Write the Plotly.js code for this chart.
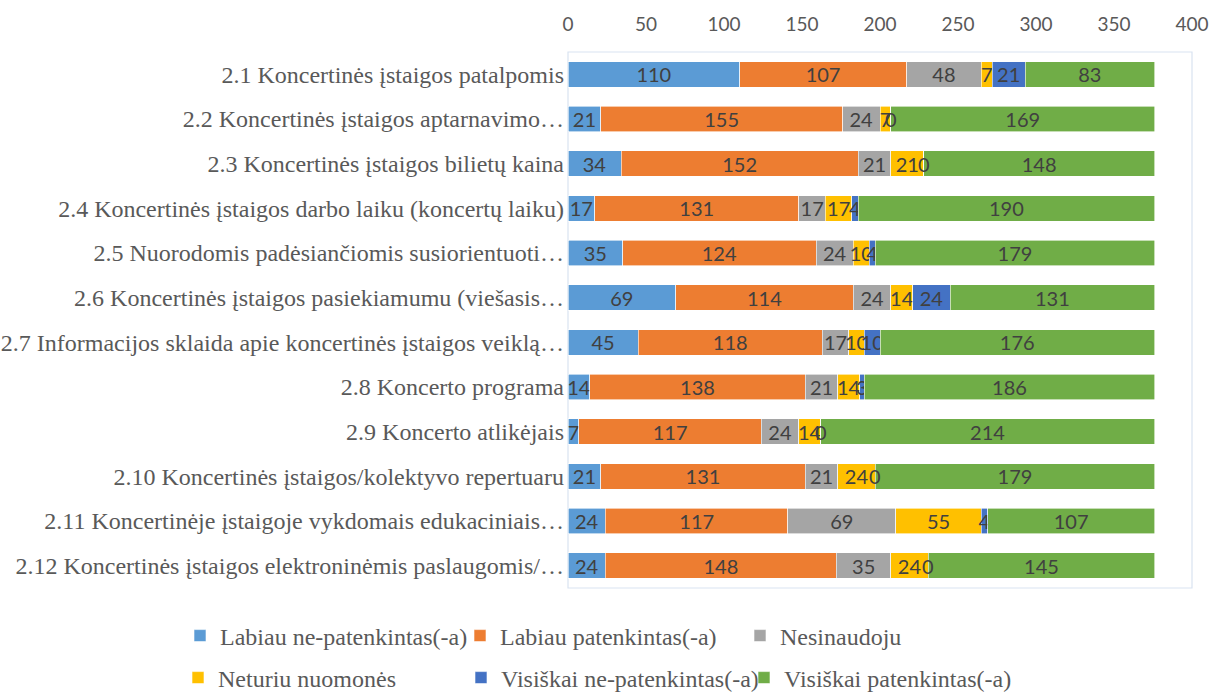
<!DOCTYPE html>
<html>
<head>
<meta charset="utf-8">
<script src="https://cdn.plot.ly/plotly-3.0.1.min.js"></script>
<style>html,body{margin:0;padding:0;background:#fff;}#chart{width:1220px;height:694px;}</style>
</head>
<body>
<div id="chart"></div>
<script>
const categories = [
  "2.1 Koncertinės įstaigos patalpomis",
  "2.2 Koncertinės įstaigos aptarnavimo…",
  "2.3 Koncertinės įstaigos bilietų kaina",
  "2.4 Koncertinės įstaigos darbo laiku (koncertų laiku)",
  "2.5 Nuorodomis padėsiančiomis susiorientuoti…",
  "2.6 Koncertinės įstaigos pasiekiamumu (viešasis…",
  "2.7 Informacijos sklaida apie koncertinės įstaigos veiklą…",
  "2.8 Koncerto programa",
  "2.9 Koncerto atlikėjais",
  "2.10 Koncertinės įstaigos/kolektyvo repertuaru",
  "2.11 Koncertinėje įstaigoje vykdomais edukaciniais…",
  "2.12 Koncertinės įstaigos elektroninėmis paslaugomis/…"
];

const seriesNames = [
  "Labiau ne-patenkintas(-a)",
  "Labiau patenkintas(-a)",
  "Nesinaudoju",
  "Neturiu nuomonės",
  "Visiškai ne-patenkintas(-a)",
  "Visiškai patenkintas(-a)"
];

const labiauNePatenkintas = [110, 21, 34, 17, 35, 69, 45, 14, 7, 21, 24, 24];
const labiauPatenkintas   = [107, 155, 152, 131, 124, 114, 118, 138, 117, 131, 117, 148];
const nesinaudoju         = [48, 24, 21, 17, 24, 24, 17, 21, 24, 21, 69, 35];
const neturiuNuomones     = [7, 7, 21, 17, 10, 14, 10, 14, 14, 24, 55, 24];
const visiskaiNePatenkintas = [21, 0, 0, 4, 4, 24, 10, 3, 0, 0, 4, 0];
const visiskaiPatenkintas = [83, 169, 148, 190, 179, 131, 176, 186, 214, 179, 107, 145];

const xTicks = [0, 50, 100, 150, 200, 250, 300, 350, 400];

const seriesValues = [labiauNePatenkintas, labiauPatenkintas, nesinaudoju,
                      neturiuNuomones, visiskaiNePatenkintas, visiskaiPatenkintas];
const colors = ["#5B9BD5", "#ED7D31", "#A5A5A5", "#FFC000", "#4472C4", "#70AD47"];
const legendIds = ["legend", "legend", "legend", "legend2", "legend2", "legend2"];

const sans = '"Lato", "Open Sans", sans-serif';
const serif = '"Liberation Serif", "Times New Roman", serif';
const labelFont = {family: sans, size: 20, color: "#404040"};

const traces = seriesValues.map((vals, k) => ({
  type: "bar",
  orientation: "h",
  name: seriesNames[k],
  x: vals,
  y: categories,
  legend: legendIds[k],
  marker: {color: colors[k], line: {color: "#ffffff", width: 0.6}},
  text: vals.map(v => v === 0 ? "" : String(v)),
  texttemplate: "%{text}",
  textposition: "inside",
  insidetextanchor: "middle",
  textangle: 0,
  constraintext: "none",
  textfont: labelFont,
  insidetextfont: labelFont,
  hoverinfo: "x+name"
}));

// labels for zero-size segments (library hides text on empty bars)
const annotations = [];
const cumulative = categories.map(() => 0);
seriesValues.forEach(vals => {
  vals.forEach((v, i) => {
    if (v === 0) {
      annotations.push({
        x: cumulative[i], y: categories[i], xref: "x", yref: "y",
        text: "0", showarrow: false, xanchor: "center", yanchor: "middle",
        font: labelFont
      });
    }
    cumulative[i] += v;
  });
});

// plot area in pixels: x 568..1192, y 52..588
const plotL = 568, plotW = 624, plotBottom = 588, plotH = 536;
const legendCommon = {
  orientation: "h",
  xref: "paper", yref: "paper",
  xanchor: "left", yanchor: "middle",
  entrywidth: 235, entrywidthmode: "pixels",
  font: {family: serif, size: 24, color: "#595959"},
  bgcolor: "rgba(0,0,0,0)",
  traceorder: "normal",
  itemclick: false, itemdoubleclick: false
};

const layout = {
  width: 1220, height: 694,
  margin: {l: 568, r: 28, t: 52, b: 106, pad: 0, autoexpand: false},
  paper_bgcolor: "#ffffff",
  plot_bgcolor: "#ffffff",
  barmode: "stack",
  bargap: 0.427,
  showlegend: true,
  xaxis: {
    side: "top",
    range: [0, 400],
    tickvals: xTicks,
    ticktext: xTicks.map(String),
    showgrid: false, zeroline: false, showline: false,
    ticks: "",
    tickfont: {family: sans, size: 19, color: "#595959"},
    ticklabelstandoff: 16,
    fixedrange: true
  },
  yaxis: {
    type: "category",
    autorange: "reversed",
    showgrid: false, zeroline: false, showline: false,
    ticks: "",
    tickfont: {family: serif, size: 24, color: "#595959"},
    ticklabelstandoff: 3,
    fixedrange: true
  },
  legend: Object.assign({}, legendCommon, {x: (180 - plotL) / plotW, y: (plotBottom - 636) / plotH}),
  legend2: Object.assign({}, legendCommon, {x: (178 - plotL) / plotW, entrywidth: 238, y: (plotBottom - 678) / plotH}),
  shapes: [{
    type: "rect", xref: "paper", yref: "paper",
    x0: 0, x1: 1, y0: 0, y1: 1,
    line: {color: "#d9e3f1", width: 1.2},
    fillcolor: "rgba(0,0,0,0)",
    layer: "below"
  }],
  annotations: annotations
};

Plotly.newPlot("chart", traces, layout, {displayModeBar: false, responsive: false});
</script>
</body>
</html>
